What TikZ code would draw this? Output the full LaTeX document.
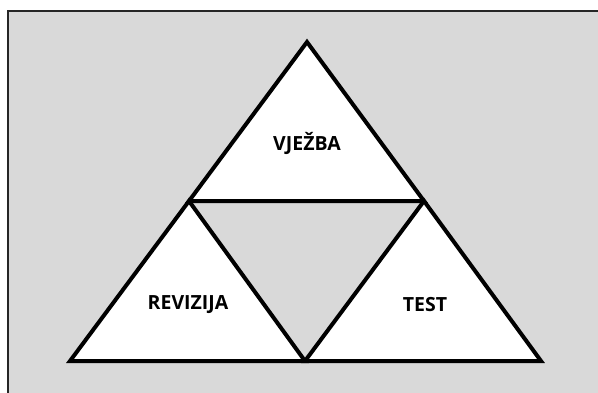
\documentclass[tikz,border=0pt]{standalone}
\usepackage{fontspec}
\setmainfont{Carlito}
\newfontfamily\lblfont{Open Sans}
\usepackage{tikz}
\usetikzlibrary{positioning}

\definecolor{bggray}{HTML}{D9D9D9}

\tikzset{tri/.style={draw=black,fill=white,line width=4pt,line join=miter},
lbl/.style={font=\lblfont\fontsize{19.5}{23}\selectfont\bfseries}}

\begin{document}
\begin{tikzpicture}[x=1pt,y=-1pt]

\useasboundingbox (0,0) rectangle (598,392);

\fill[bggray] (8,11) rectangle (610,400);

\draw[line width=2pt,black!85] (7.5,410) -- (7.5,11) -- (610,11);

\coordinate (top) at (307,42);

\coordinate (left) at (189,201);

\coordinate (right) at (424,201);

\coordinate (bl) at (70,361);

\coordinate (bm) at (305,361);

\coordinate (br) at (541,361);

\draw[tri] (top) -- (right) -- (left) -- cycle;

\draw[tri] (left) -- (bm) -- (bl) -- cycle;

\draw[tri] (right) -- (br) -- (bm) -- cycle;

\node[lbl](vjezba) at (307,143){VJEŽBA};

\node[lbl](revizija) at (188,304.5){REVIZIJA};

\node[lbl](test) at (425,304.5){TEST};

\end{tikzpicture}
\end{document}
